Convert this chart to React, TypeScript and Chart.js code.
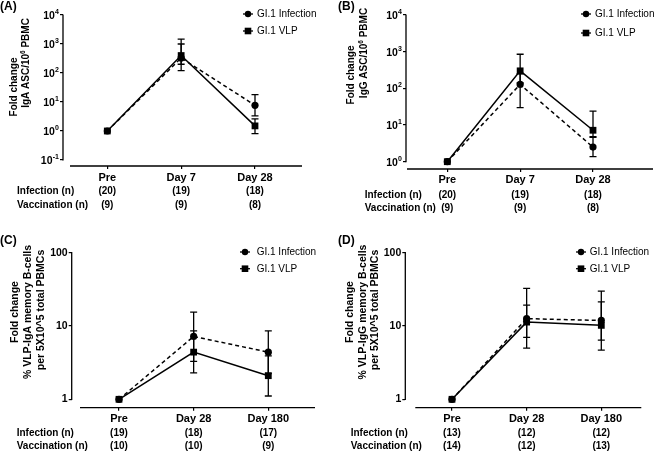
import React, { useEffect, useRef } from "react";
import { Chart, registerables } from "chart.js";
Chart.register(...registerables);

const FONT = "'Liberation Sans', Arial, Helvetica, sans-serif";

// ---------- DATA ----------
// Panel A: IgA ASC
const catsA = ["Pre", "Day 7", "Day 28"];
const infA = [1, 330, 7.7];
const infLoA = [1, 200, 3.3];
const infHiA = [1, 1000, 18];
const vlpA = [1, 400, 1.5];
const vlpLoA = [1, 120, 0.81];
const vlpHiA = [1, 1480, 2.6];
const nInfA = ["(20)", "(19)", "(18)"];
const nVacA = ["(9)", "(9)", "(8)"];
const yTicksA = [0.1, 1, 10, 100, 1000, 10000];

// Panel B: IgG ASC
const catsB = ["Pre", "Day 7", "Day 28"];
const infB = [1, 128, 2.5];
const infLoB = [1, 30, 1.37];
const infHiB = [1, 250, 4.8];
const vlpB = [1, 300, 7.2];
const vlpLoB = [1, 140, 4.6];
const vlpHiB = [1, 850, 24];
const nInfB = ["(20)", "(19)", "(18)"];
const nVacB = ["(9)", "(9)", "(8)"];
const yTicksB = [1, 10, 100, 1000, 10000];

// Panel C: VLP-IgA memory B-cells
const catsC = ["Pre", "Day 28", "Day 180"];
const infC = [1, 7.2, 4.4];
const infLoC = [1, 3.3, 2.25];
const infHiC = [1, 15.5, 8.6];
const vlpC = [1, 4.4, 2.1];
const vlpLoC = [1, 2.3, 1.11];
const vlpHiC = [1, 8.6, 3.9];
const nInfC = ["(19)", "(18)", "(17)"];
const nVacC = ["(10)", "(10)", "(9)"];
const yTicksC = [1, 10, 100];

// Panel D: VLP-IgG memory B-cells
const catsD = ["Pre", "Day 28", "Day 180"];
const infD = [1, 12.6, 11.9];
const infLoD = [1, 7.0, 6.4];
const infHiD = [1, 19.3, 21.4];
const vlpD = [1, 11.3, 10.2];
const vlpLoD = [1, 5.0, 4.7];
const vlpHiD = [1, 32.7, 30];
const nInfD = ["(13)", "(12)", "(12)"];
const nVacD = ["(14)", "(12)", "(13)"];
const yTicksD = [1, 10, 100];

const seriesNames = ["GI.1 Infection", "GI.1 VLP"];
const rowNames = ["Infection (n)", "Vaccination (n)"];

// ---------- LAYOUT ----------
type Geo = {
  x: number; y: number; w: number; h: number;
  axisX: number; top: number; lowPx: number; bottom: number; right: number;
  cat0: number; catStep: number; xLineStart: number; tickPad: number;
  nLabelX: number; nRow1: number; nRow2: number;
  titleFont: number; titlePos: { x: number; y: number }[];
  legX: number; legY1: number; legY2: number; legTextX: number;
  labelX: number; labelY: number;
};

type Panel = {
  label: string; cats: string[];
  inf: number[]; infLo: number[]; infHi: number[];
  vlp: number[]; vlpLo: number[]; vlpHi: number[];
  nInf: string[]; nVac: string[];
  yTicks: number[]; sup: boolean; titles: string[]; geo: Geo;
};

const panels: Panel[] = [
  {
    label: "(A)", cats: catsA, inf: infA, infLo: infLoA, infHi: infHiA, vlp: vlpA, vlpLo: vlpLoA, vlpHi: vlpHiA,
    nInf: nInfA, nVac: nVacA, yTicks: yTicksA, sup: true,
    titles: ["Fold change", "IgA ASC/10⁶ PBMC"],
    geo: {
      x: 0, y: 0, w: 328, h: 226, axisX: 63, top: 15, lowPx: 160, bottom: 166, right: 302,
      cat0: 107.3, catStep: 73.85, xLineStart: 70, tickPad: 2.4,
      nLabelX: 17, nRow1: 191.5, nRow2: 205.5,
      titleFont: 10, titlePos: [{ x: 14, y: 87 }, { x: 26.5, y: 63 }],
      legX: 248, legY1: 14, legY2: 31, legTextX: 257, labelX: 0, labelY: 7,
    },
  },
  {
    label: "(B)", cats: catsB, inf: infB, infLo: infLoB, infHi: infHiB, vlp: vlpB, vlpLo: vlpLoB, vlpHi: vlpHiB,
    nInf: nInfB, nVac: nVacB, yTicks: yTicksB, sup: true,
    titles: ["Fold change", "IgG ASC/10⁶ PBMC"],
    geo: {
      x: 328, y: 0, w: 330, h: 226, axisX: 78, top: 15, lowPx: 161.7, bottom: 169, right: 325,
      cat0: 119.3, catStep: 72.85, xLineStart: 79, tickPad: 1.4,
      nLabelX: 36.7, nRow1: 195, nRow2: 208.3,
      titleFont: 10, titlePos: [{ x: 23.3, y: 75 }, { x: 36.7, y: 53 }],
      legX: 258, legY1: 14, legY2: 33, legTextX: 267, labelX: 10, labelY: 7,
    },
  },
  {
    label: "(C)", cats: catsC, inf: infC, infLo: infLoC, infHi: infHiC, vlp: vlpC, vlpLo: vlpLoC, vlpHi: vlpHiC,
    nInf: nInfC, nVac: nVacC, yTicks: yTicksC, sup: false,
    titles: ["Fold change", "% VLP-IgA memory B-cells", "per 5X10^5 total PBMCs"],
    geo: {
      x: 0, y: 226, w: 328, h: 226, axisX: 71.7, top: 26.7, lowPx: 173.3, bottom: 181.7, right: 315,
      cat0: 119, catStep: 74.65, xLineStart: 80, tickPad: 1.4,
      nLabelX: 16.7, nRow1: 207.3, nRow2: 220,
      titleFont: 10.5, titlePos: [{ x: 15, y: 86 }, { x: 28.3, y: 86 }, { x: 40.7, y: 84 }],
      legX: 245, legY1: 26, legY2: 42.7, legTextX: 256.7, labelX: 0, labelY: 15,
    },
  },
  {
    label: "(D)", cats: catsD, inf: infD, infLo: infLoD, infHi: infHiD, vlp: vlpD, vlpLo: vlpLoD, vlpHi: vlpHiD,
    nInf: nInfD, nVac: nVacD, yTicks: yTicksD, sup: false,
    titles: ["Fold change", "% VLP-IgG memory B-cells", "per 5X10^5 total PBMCs"],
    geo: {
      x: 328, y: 226, w: 330, h: 226, axisX: 77.3, top: 26.7, lowPx: 173.3, bottom: 181.7, right: 313.3,
      cat0: 124, catStep: 74.65, xLineStart: 87.3, tickPad: 1.4,
      nLabelX: 22.7, nRow1: 207.3, nRow2: 220,
      titleFont: 10.5, titlePos: [{ x: 21.7, y: 86 }, { x: 35, y: 86 }, { x: 46.7, y: 84 }],
      legX: 253, legY1: 26, legY2: 42.7, legTextX: 261.7, labelX: 10, labelY: 15,
    },
  },
];

const SUP_DIGITS: Record<string, string> = { "⁰": "0", "¹": "1", "²": "2", "³": "3", "⁴": "4", "⁵": "5", "⁶": "6", "⁷": "7", "⁸": "8", "⁹": "9", "⁻": "-" };

// split a title into normal / superscript segments
function segments(t: string) {
  const segs: { s: string; sup: boolean }[] = [];
  for (const ch of t) {
    const isSup = ch in SUP_DIGITS;
    const c = isSup ? SUP_DIGITS[ch] : ch;
    const last = segs[segs.length - 1];
    if (last && last.sup === isSup) last.s += c;
    else segs.push({ s: c, sup: isSup });
  }
  return segs;
}

function makePlugin(p: Panel) {
  const g = p.geo;
  return {
    id: "decor",
    beforeDatasetsDraw(chart: any) {
      const ctx = chart.ctx;
      const xs = chart.scales.x;
      const ys = chart.scales.y;
      const ca = chart.chartArea;
      ctx.save();
      ctx.strokeStyle = "#000";
      ctx.lineWidth = 1.3;
      ctx.beginPath();
      ctx.moveTo(ca.left, ys.getPixelForValue(p.yTicks[p.yTicks.length - 1]) - 0.6);
      ctx.lineTo(ca.left, ys.getPixelForValue(p.yTicks[0]) + 0.6);
      ctx.moveTo(g.xLineStart, ca.bottom);
      ctx.lineTo(ca.right, ca.bottom);
      ctx.stroke();
      const cap = 3.5;
      const bars = [[p.infLo, p.infHi], [p.vlpLo, p.vlpHi]];
      ctx.lineWidth = 1.3;
      for (const [lo, hi] of bars) {
        lo.forEach((l, i) => {
          const h = hi[i];
          if (l === h) return;
          const px = xs.getPixelForValue(i);
          const y1 = ys.getPixelForValue(l);
          const y2 = ys.getPixelForValue(h);
          ctx.beginPath();
          ctx.moveTo(px, y1);
          ctx.lineTo(px, y2);
          ctx.moveTo(px - cap, y1);
          ctx.lineTo(px + cap, y1);
          ctx.moveTo(px - cap, y2);
          ctx.lineTo(px + cap, y2);
          ctx.stroke();
        });
      }
      ctx.restore();
    },
    afterDraw(chart: any) {
      const ctx = chart.ctx;
      const xs = chart.scales.x;
      const ys = chart.scales.y;
      const ca = chart.chartArea;
      ctx.save();
      ctx.fillStyle = "#000";
      ctx.strokeStyle = "#000";
      // superscript y tick labels (10^n)
      if (p.sup) {
        p.yTicks.forEach((v) => {
          const py = ys.getPixelForValue(v);
          const exp = String(Math.round(Math.log10(v)));
          const xr = ca.left - 4;
          ctx.textAlign = "right";
          ctx.textBaseline = "middle";
          ctx.font = `bold 7px ${FONT}`;
          const ew = ctx.measureText(exp).width;
          ctx.fillText(exp, xr, py - 3);
          ctx.font = `bold 10.5px ${FONT}`;
          ctx.fillText("10", xr - ew - 0.3, py + 1);
        });
      }
      // n rows
      ctx.font = `bold 10px ${FONT}`;
      ctx.textBaseline = "middle";
      ctx.textAlign = "left";
      ctx.fillText(rowNames[0], g.nLabelX, g.nRow1);
      ctx.fillText(rowNames[1], g.nLabelX, g.nRow2);
      ctx.textAlign = "center";
      p.nInf.forEach((t, i) => ctx.fillText(t, xs.getPixelForValue(i), g.nRow1));
      p.nVac.forEach((t, i) => ctx.fillText(t, xs.getPixelForValue(i), g.nRow2));
      // y title (rotated), with real superscripts
      const fBig = `bold ${g.titleFont}px ${FONT}`;
      const fSmall = `bold ${g.titleFont * 0.65}px ${FONT}`;
      p.titles.forEach((t, i) => {
        const pos = g.titlePos[i];
        const segs = segments(t);
        let total = 0;
        const widths = segs.map((s) => {
          ctx.font = s.sup ? fSmall : fBig;
          const w = ctx.measureText(s.s).width;
          total += w;
          return w;
        });
        ctx.save();
        ctx.translate(pos.x, pos.y);
        ctx.rotate(-Math.PI / 2);
        ctx.textAlign = "left";
        ctx.textBaseline = "middle";
        let cx = -total / 2;
        segs.forEach((s, k) => {
          ctx.font = s.sup ? fSmall : fBig;
          ctx.fillText(s.s, cx, s.sup ? -g.titleFont * 0.35 : 0);
          cx += widths[k];
        });
        ctx.restore();
      });
      // legend
      ctx.font = `10px ${FONT}`;
      ctx.textAlign = "left";
      ctx.textBaseline = "middle";
      ctx.lineWidth = 1.3;
      [g.legY1, g.legY2].forEach((ly, i) => {
        ctx.beginPath();
        ctx.moveTo(g.legX - 5, ly);
        ctx.lineTo(g.legX + 5, ly);
        ctx.stroke();
        ctx.beginPath();
        if (i === 0) ctx.arc(g.legX, ly, 3.2, 0, Math.PI * 2);
        else ctx.rect(g.legX - 3.3, ly - 3.3, 6.6, 6.6);
        ctx.fill();
        ctx.fillText(seriesNames[i], g.legTextX, ly + 0.5);
      });
      // panel label
      ctx.font = `bold 12px ${FONT}`;
      ctx.fillText(p.label, g.labelX, g.labelY);
      ctx.restore();
    },
  };
}

function PanelChart({ p }: { p: Panel }) {
  const ref = useRef<HTMLCanvasElement | null>(null);
  useEffect(() => {
    const g = p.geo;
    const yMax = p.yTicks[p.yTicks.length - 1];
    const yLow = p.yTicks[0];
    const dpx = (g.lowPx - g.top) / Math.log10(yMax / yLow);
    const yMin = yLow * Math.pow(10, -(g.bottom - g.lowPx) / dpx);
    const xMin = -(g.cat0 - g.axisX) / g.catStep;
    const xMax = p.cats.length - 1 + (g.right - (g.cat0 + g.catStep * (p.cats.length - 1))) / g.catStep;
    const tickFontX = { family: FONT, size: 11, weight: "bold" as const };
    const tickFontY = { family: FONT, size: 10.5, weight: "bold" as const };
    const chart = new Chart(ref.current as HTMLCanvasElement, {
      type: "line",
      data: {
        datasets: [
          {
            label: seriesNames[1],
            data: p.vlp.map((v, i) => ({ x: i, y: v })),
            borderColor: "#000",
            backgroundColor: "#000",
            borderWidth: 1.5,
            pointStyle: "rect",
            pointRadius: 4.8,
            pointBorderWidth: 0,
            clip: false,
          } as any,
          {
            label: seriesNames[0],
            data: p.inf.map((v, i) => ({ x: i, y: v })),
            borderColor: "#000",
            backgroundColor: "#000",
            borderWidth: 1.5,
            borderDash: [4, 3],
            pointStyle: "circle",
            pointRadius: 3.6,
            pointBorderWidth: 0,
            clip: false,
          } as any,
        ],
      },
      options: {
        responsive: false,
        animation: false,
        devicePixelRatio: 1,
        layout: { padding: { top: g.top, left: 0, right: g.w - g.right, bottom: 0 } },
        plugins: { legend: { display: false }, tooltip: { enabled: false }, title: { display: false } },
        scales: {
          x: {
            type: "linear",
            bounds: "data",
            min: xMin,
            max: xMax,
            afterBuildTicks: (s: any) => {
              s.ticks = p.cats.map((_, i) => ({ value: i }));
            },
            afterFit: (s: any) => {
              s.height = g.h - g.bottom;
            },
            ticks: {
              callback: (_v: any, i: number) => p.cats[i],
              font: tickFontX,
              color: "#000",
              padding: g.tickPad,
              maxRotation: 0,
              autoSkip: false,
            },
            grid: { display: true, drawOnChartArea: false, drawTicks: true, tickLength: 3, color: "#000", lineWidth: 1.2 },
            border: { display: false },
          },
          y: {
            type: "logarithmic",
            bounds: "data",
            min: yMin,
            max: yMax,
            afterBuildTicks: (s: any) => {
              s.ticks = p.yTicks.map((v) => ({ value: v }));
            },
            afterFit: (s: any) => {
              s.width = g.axisX;
            },
            ticks: {
              display: !p.sup,
              callback: (v: any) => String(v),
              font: tickFontY,
              color: "#000",
              padding: 1,
              autoSkip: false,
            },
            grid: { display: true, drawOnChartArea: false, drawTicks: true, tickLength: 3, color: "#000", lineWidth: 1.2 },
            border: { display: false },
          },
        },
      } as any,
      plugins: [makePlugin(p)],
    });
    return () => chart.destroy();
  }, [p]);
  const g = p.geo;
  return (
    <canvas
      ref={ref}
      width={g.w}
      height={g.h}
      style={{ position: "absolute", left: g.x, top: g.y, width: g.w, height: g.h }}
    />
  );
}

export default function App() {
  return (
    <div style={{ position: "absolute", left: 0, top: 0, width: 658, height: 452, background: "#fff", overflow: "hidden" }}>
      {panels.map((p) => (
        <PanelChart key={p.label} p={p} />
      ))}
    </div>
  );
}
